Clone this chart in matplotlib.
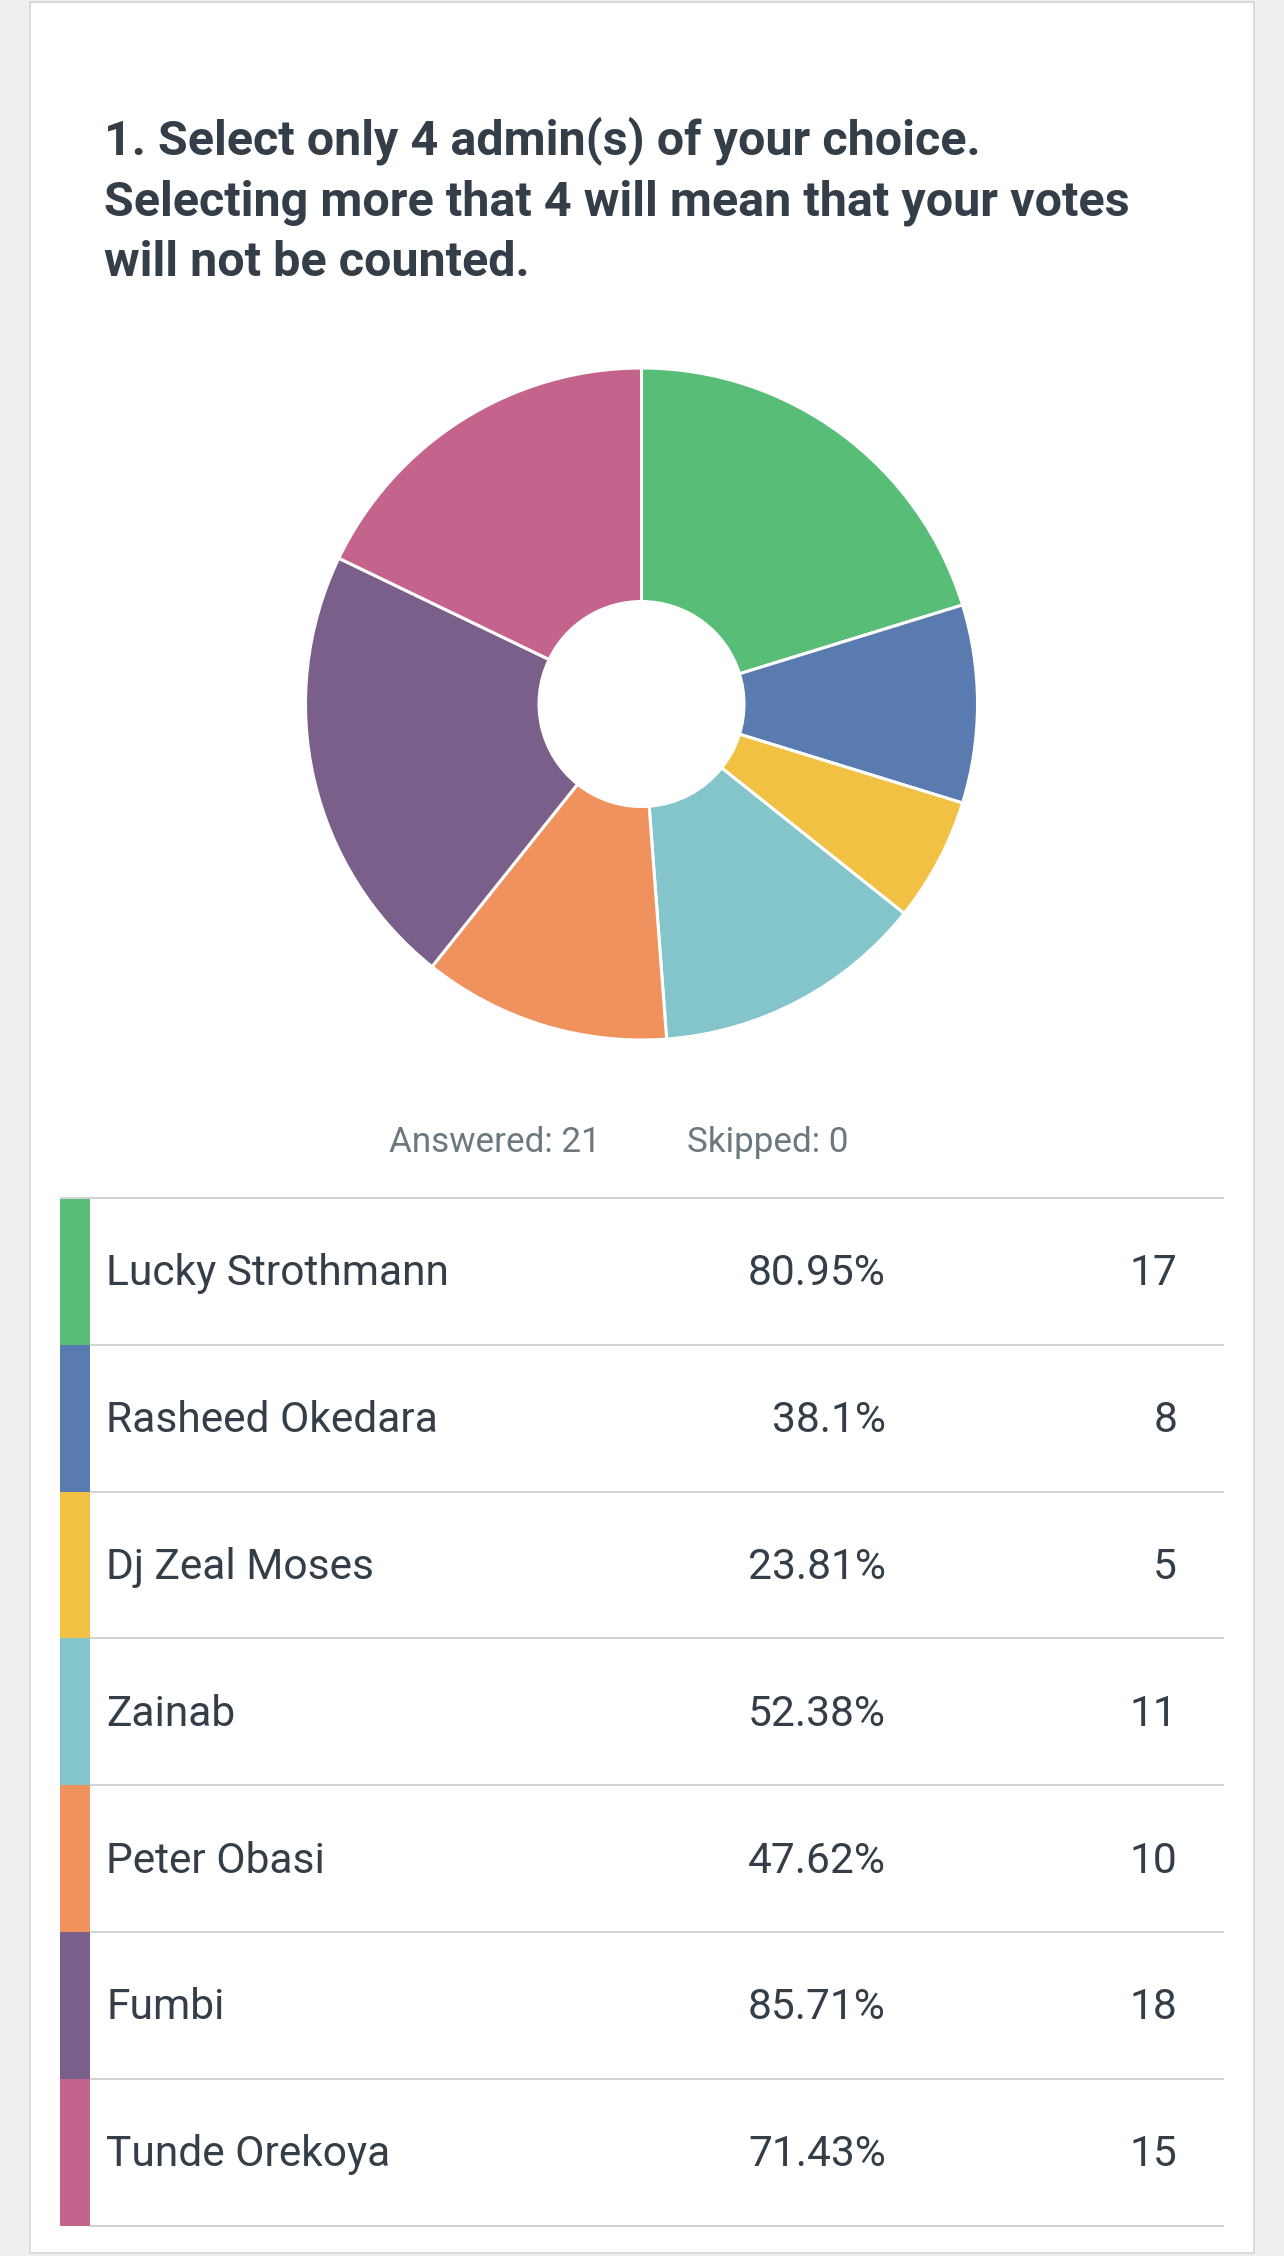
import matplotlib
matplotlib.use("Agg")
import matplotlib.pyplot as plt
from matplotlib.patches import Rectangle

# ---------------- data ----------------
names = ["Lucky Strothmann", "Rasheed Okedara", "Dj Zeal Moses", "Zainab",
         "Peter Obasi", "Fumbi", "Tunde Orekoya"]
counts = [17, 8, 5, 11, 10, 18, 15]
percent_labels = ["80.95%", "38.1%", "23.81%", "52.38%", "47.62%", "85.71%", "71.43%"]
colors = ["#57bd77", "#5a7bb0", "#f0c142", "#84c5cb", "#ef925e", "#7a5f8a", "#c4648c"]
title_lines = ["1. Select only 4 admin(s) of your choice.",
               "Selecting more that 4 will mean that your votes",
               "will not be counted."]
answered_text = "Answered: 21"
skipped_text = "Skipped: 0"

# ---------------- layout ----------------
W, H = 1284, 2256
DPI = 100
fig = plt.figure(figsize=(W / DPI, H / DPI), dpi=DPI)
fig.patch.set_facecolor("#efefef")

FONT = ["Roboto", "DejaVu Sans"]
DARK = "#333e48"
GRAY = "#6b787f"
px = 72.0 / DPI  # points per pixel

# background canvas axes in pixel coords
bg = fig.add_axes([0, 0, 1, 1])
bg.set_xlim(0, W)
bg.set_ylim(H, 0)
bg.axis("off")
bg.add_patch(Rectangle((30, 2), 1224, 2251, facecolor="white",
                       edgecolor="#d6d6d6", linewidth=1.2))

# title
title_baselines = [154, 215, 276]
for line, yb in zip(title_lines, title_baselines):
    bg.text(104, yb, line, fontsize=48.5 * px, fontweight="bold", color=DARK,
            family=FONT, ha="left", va="baseline")

# donut
cx, cy, R = 641.5, 704.0, 336.0
pie_ax = fig.add_axes([(cx - R) / W, 1 - (cy + R) / H, 2 * R / W, 2 * R / H])
pie_ax.pie(counts, colors=colors, startangle=90, counterclock=False, radius=1.0,
           wedgeprops=dict(width=0.695, edgecolor="white", linewidth=2.2))
pie_ax.set_xlim(-1, 1)
pie_ax.set_ylim(-1, 1)
pie_ax.set_aspect("equal")
pie_ax.axis("off")

# answered / skipped
bg.text(389, 1152, answered_text, fontsize=35 * px, color=GRAY, family=FONT,
        ha="left", va="baseline")
bg.text(687, 1152, skipped_text, fontsize=35 * px, color=GRAY, family=FONT,
        ha="left", va="baseline")

# table
top = 1198.0
row_h = 146.8
bar_x0, bar_x1 = 60, 90
line_x1 = 1224
line_col = "#d2d3d5"
bg.plot([bar_x0, line_x1], [top, top], color=line_col, linewidth=2 * px,
        solid_capstyle="butt")
for i, (nm, c, pl, col) in enumerate(zip(names, counts, percent_labels, colors)):
    y0 = top + i * row_h
    y1 = y0 + row_h
    bg.add_patch(Rectangle((bar_x0, y0), bar_x1 - bar_x0, row_h,
                           facecolor=col, edgecolor="none"))
    bg.plot([bar_x1, line_x1], [y1, y1], color=line_col, linewidth=2 * px,
            solid_capstyle="butt")
    yb = (y0 + y1) / 2 + 14
    bg.text(106, yb, nm, fontsize=42.5 * px, color=DARK, family=FONT,
            ha="left", va="baseline")
    bg.text(886, yb, pl, fontsize=42.5 * px, color=DARK, family=FONT,
            ha="right", va="baseline")
    bg.text(1177, yb, str(c), fontsize=42.5 * px, color=DARK, family=FONT,
            ha="right", va="baseline")

fig.savefig("out.png", dpi=DPI, facecolor=fig.get_facecolor())
